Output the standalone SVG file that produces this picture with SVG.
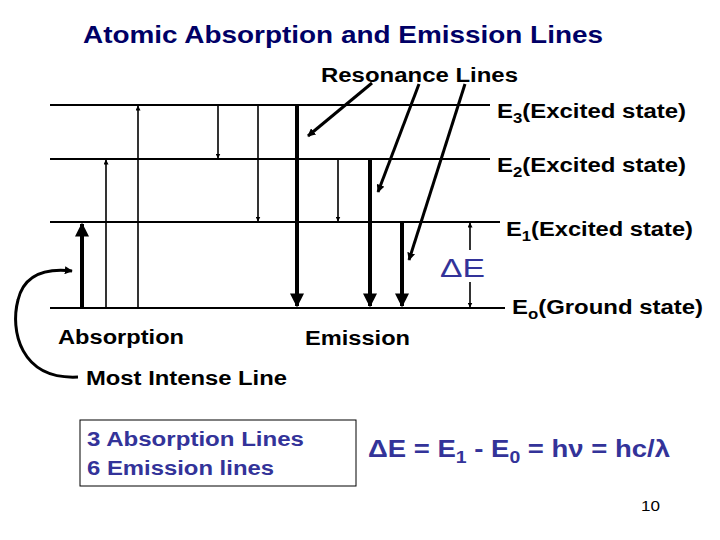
<svg xmlns="http://www.w3.org/2000/svg" width="720" height="540" viewBox="0 0 720 540">
<style>
text{font-family:"Liberation Sans",Arial,sans-serif;font-weight:bold}
.lv{stroke:#000;stroke-width:2.2}
.t{stroke:#000;stroke-width:1.6;fill:none}
.k{stroke:#000;stroke-width:4;fill:none}
.b{fill:#333399}
</style>
<defs>
<marker id="a" viewBox="0 0 10 10" refX="9" refY="5" markerWidth="5" markerHeight="5" orient="auto" markerUnits="userSpaceOnUse"><path d="M0,0L10,5L0,10z"/></marker>
<marker id="A" viewBox="0 0 10 10" refX="9" refY="5" markerWidth="3.5" markerHeight="3.5" orient="auto"><path d="M0,0L10,5L0,10z"/></marker>
<marker id="s" viewBox="0 0 10 10" refX="9" refY="5" markerWidth="8" markerHeight="8" orient="auto" markerUnits="userSpaceOnUse"><path d="M0,0L10,5L0,10z"/></marker>
</defs>
<rect width="720" height="540" fill="#fff"/>
<text x="83" y="43" font-size="24" fill="#000066" textLength="520" lengthAdjust="spacingAndGlyphs">Atomic Absorption and Emission Lines</text>
<g id="levels">
<line class="lv" x1="50" y1="105" x2="490" y2="105"/>
<line class="lv" x1="50" y1="159" x2="490" y2="159"/>
<line class="lv" x1="50" y1="222" x2="500" y2="222"/>
<line class="lv" x1="50" y1="308" x2="505" y2="308"/>
</g>
<g id="labels" font-size="20">
<text x="321" y="82" textLength="197" lengthAdjust="spacingAndGlyphs">Resonance Lines</text>
<text x="497" y="118" textLength="189" lengthAdjust="spacingAndGlyphs">E<tspan font-size="14" dy="5">3</tspan><tspan dy="-5">(Excited state)</tspan></text>
<text x="497" y="172" textLength="189" lengthAdjust="spacingAndGlyphs">E<tspan font-size="14" dy="5">2</tspan><tspan dy="-5">(Excited state)</tspan></text>
<text x="506" y="236" textLength="187" lengthAdjust="spacingAndGlyphs">E<tspan font-size="14" dy="5">1</tspan><tspan dy="-5">(Excited state)</tspan></text>
<text x="512" y="314" textLength="191" lengthAdjust="spacingAndGlyphs">E<tspan font-size="14" dy="5">o</tspan><tspan dy="-5">(Ground state)</tspan></text>
<text x="58" y="344" textLength="126" lengthAdjust="spacingAndGlyphs">Absorption</text>
<text x="305" y="345" textLength="105" lengthAdjust="spacingAndGlyphs">Emission</text>
<text x="86" y="385" textLength="201" lengthAdjust="spacingAndGlyphs">Most Intense Line</text>
<text x="440" y="277" font-size="25" class="b" style="font-weight:normal" textLength="45" lengthAdjust="spacingAndGlyphs">ΔE</text>
</g>
<g id="connectors">
<line class="k" x1="82" y1="308" x2="82" y2="224" marker-end="url(#A)"/>
<line class="t" x1="106" y1="308" x2="106" y2="160" marker-end="url(#a)"/>
<line class="t" x1="138" y1="308" x2="138" y2="106" marker-end="url(#a)"/>
<line class="t" x1="218" y1="105" x2="218" y2="158" marker-end="url(#a)"/>
<line class="t" x1="258" y1="105" x2="258" y2="221" marker-end="url(#a)"/>
<line class="k" x1="297" y1="105" x2="297" y2="306" marker-end="url(#A)"/>
<line class="t" x1="338" y1="159" x2="338" y2="221" marker-end="url(#a)"/>
<line class="k" x1="370" y1="159" x2="370" y2="306" marker-end="url(#A)"/>
<line class="k" x1="402" y1="222" x2="402" y2="306" marker-end="url(#A)"/>
<line class="t" x1="470" y1="250" x2="470" y2="223" marker-end="url(#a)"/>
<line class="t" x1="470" y1="282" x2="470" y2="307" marker-end="url(#a)"/>
<line class="k" style="stroke-width:3" x1="372" y1="83" x2="308" y2="136" marker-end="url(#s)"/>
<line class="k" style="stroke-width:3" x1="419" y1="84" x2="378" y2="192" marker-end="url(#s)"/>
<line class="k" style="stroke-width:3" x1="465" y1="84" x2="409" y2="260" marker-end="url(#s)"/>
<path class="k" style="stroke-width:3" d="M78,377 C20,380 10,330 18,300 C24,275 45,268 72,271" marker-end="url(#s)"/>
</g>
<g id="box">
<rect x="80" y="420" width="276" height="66" fill="none" stroke="#000" stroke-width="1"/>
<text x="87" y="446" font-size="20" class="b" textLength="217" lengthAdjust="spacingAndGlyphs">3 Absorption Lines</text>
<text x="87" y="475" font-size="20" class="b" textLength="187" lengthAdjust="spacingAndGlyphs">6 Emission lines</text>
</g>
<text x="368" y="457" font-size="24" class="b" textLength="302" lengthAdjust="spacingAndGlyphs">ΔE = E<tspan font-size="17" dy="6">1</tspan><tspan dy="-6"> - E</tspan><tspan font-size="17" dy="6">0</tspan><tspan dy="-6"> = hν = hc/λ</tspan></text>
<text x="641" y="511" font-size="15" style="font-weight:normal" textLength="19" lengthAdjust="spacingAndGlyphs">10</text>
</svg>
